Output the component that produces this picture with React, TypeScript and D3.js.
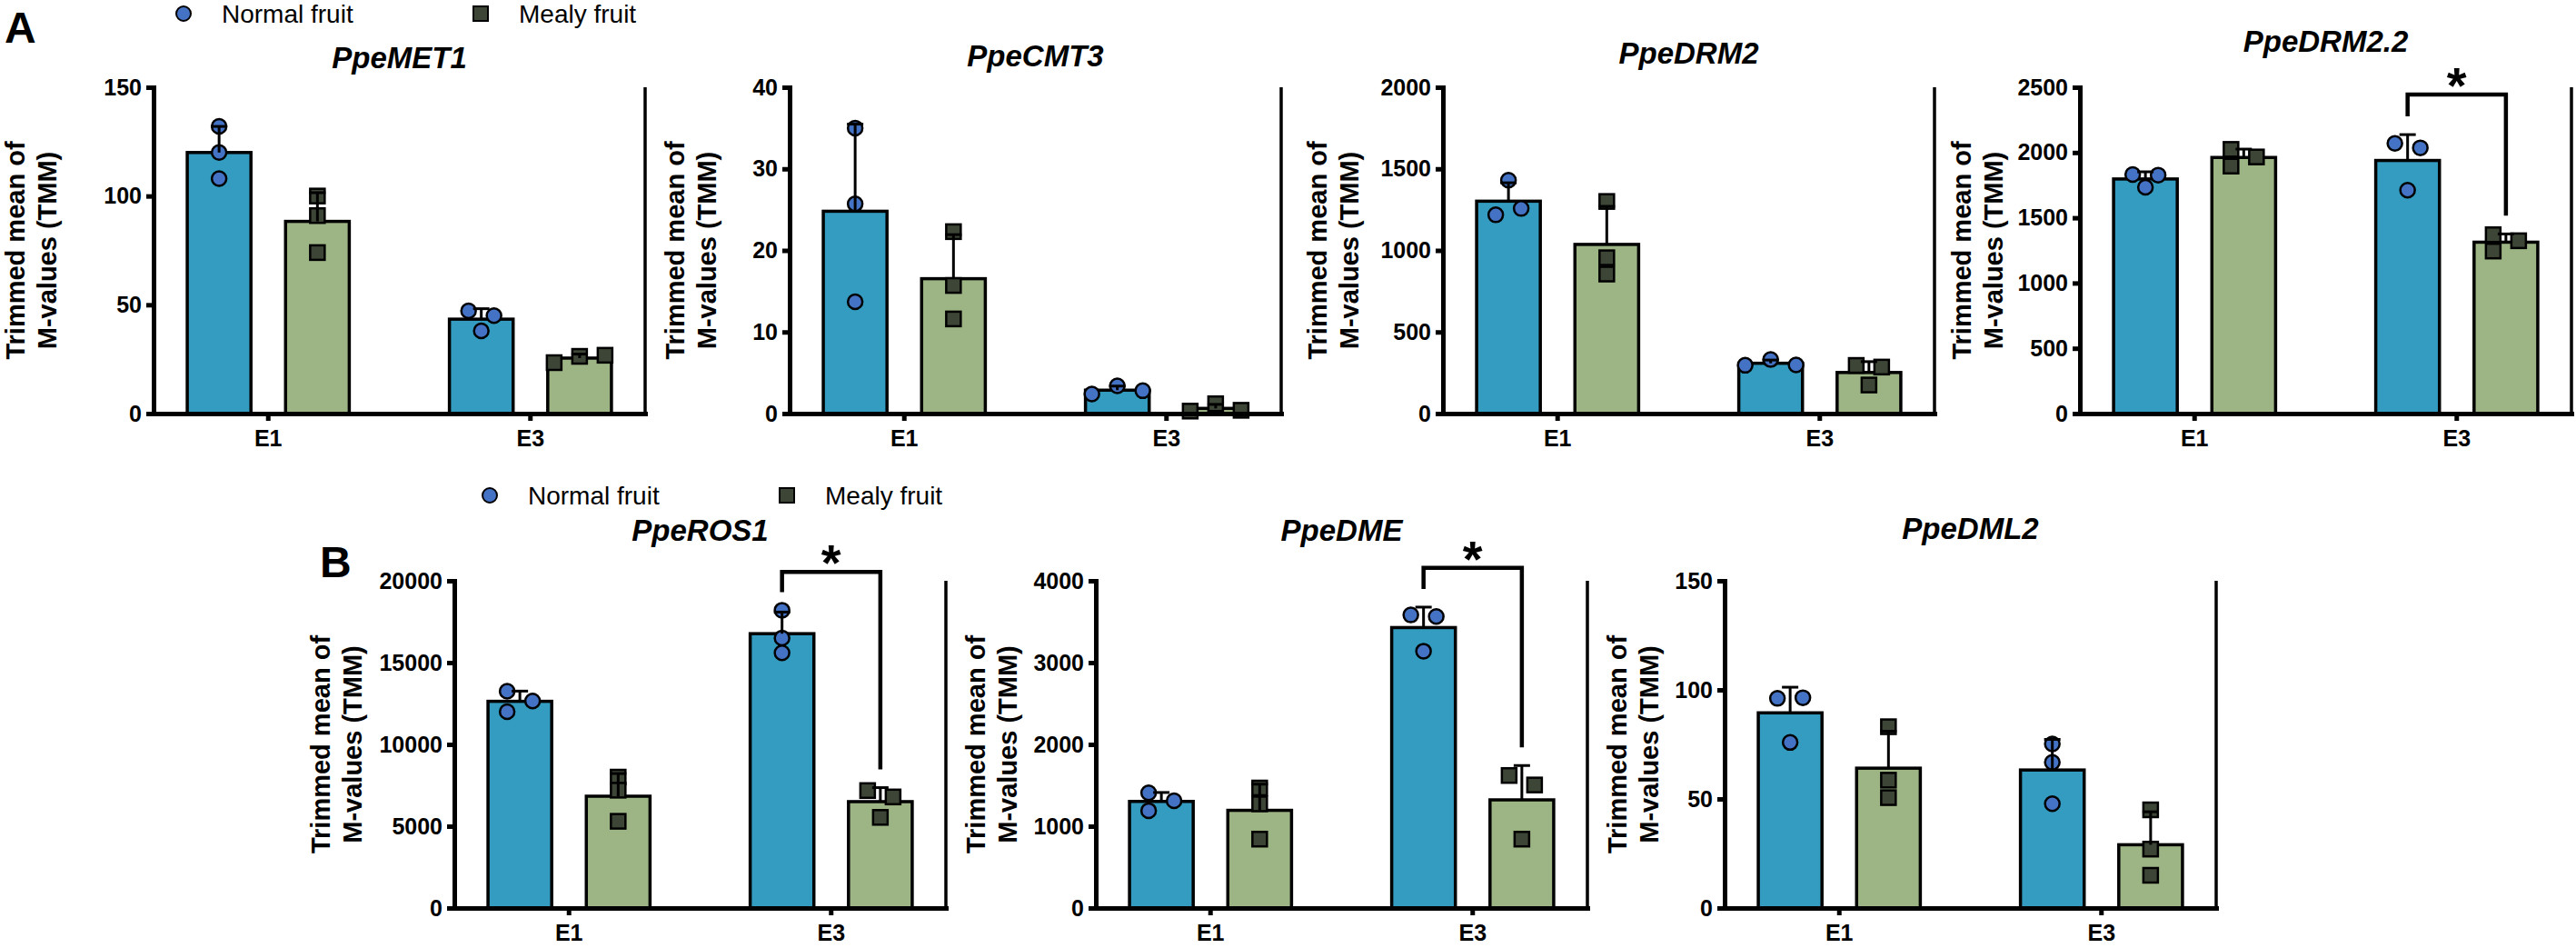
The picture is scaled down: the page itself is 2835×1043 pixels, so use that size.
import React, { useEffect, useRef } from 'react';
import * as d3 from 'd3';

// ---- data ----
const groups = ['E1', 'E3'];
const seriesNames = ['Normal fruit', 'Mealy fruit'];
const genes = ['PpeMET1', 'PpeCMT3', 'PpeDRM2', 'PpeDRM2.2', 'PpeROS1', 'PpeDME', 'PpeDML2'];

// replicates per group (E1, E3)
const met1Normal = [[132, 120, 108], [45, 47.2, 38]];
const met1Mealy = [[100, 91, 74], [26.3, 23.4, 26.8]];
const cmt3Normal = [[35, 25.7, 13.7], [3.4, 2.4, 2.8]];
const cmt3Mealy = [[22.3, 15.7, 11.6], [1.2, 0.3, 0.4]];
const drm2Normal = [[1430, 1257, 1218], [331, 296, 298]];
const drm2Mealy = [[1300, 955, 855], [285, 295, 175]];
const drm22Normal = [[1827, 1831, 1734], [2036, 2070, 1711]];
const drm22Mealy = [[1966, 2024, 1896], [1324, 1370, 1245]];
const ros1Normal = [[12650, 13250, 12000], [18200, 16505, 15600]];
const ros1Mealy = [[8000, 7200, 5300], [6789, 7178, 5539]];
const dmeNormal = [[1311, 1408, 1190], [3563, 3582, 3140]];
const dmeMealy = [[1467, 1273, 842], [1504, 1620, 842]];
const dml2Normal = [[96.4, 96.1, 75.9], [75.2, 66.8, 47.8]];
const dml2Mealy = [[83.1, 58.6, 50.6], [45, 27, 15]];

const normalValues = [met1Normal, cmt3Normal, drm2Normal, drm22Normal, ros1Normal, dmeNormal, dml2Normal];
const mealyValues = [met1Mealy, cmt3Mealy, drm2Mealy, drm22Mealy, ros1Mealy, dmeMealy, dml2Mealy];

const yMaxes = [150, 40, 2000, 2500, 20000, 4000, 150];
const tickSteps = [50, 10, 500, 500, 5000, 1000, 50];
// significance bracket between E3 normal and E3 mealy (top of bracket, data units)
const sigTops: (number | null)[] = [null, null, null, 2444, 20544, 4159, null];

// ---- layout ----
const W = 2835;
const H = 1043;
const rows = [
  { top: 96, zero: 455 },
  { top: 639, zero: 999 },
];
const panelRow = [0, 0, 0, 0, 1, 1, 1];
const panelLeft = [169, 869, 1588, 2289, 500, 1206, 1898];
const titleBase = [75, 73, 70, 57, 595, 595, 593];
const ylabOffset = [-142, -116, -128, -120, -137, -122, -108];
const plotW = 541;

const FONT = 'Liberation Sans, Arial, Helvetica, sans-serif';
const barColors = ['#339cc0', '#9db585'];
const dotColors = ['#4472c4', '#3c4536'];

function sd(v: number[]) {
  const m = d3.mean(v)!;
  return Math.sqrt(d3.sum(v, (d) => (d - m) ** 2) / (v.length - 1));
}

// GraphPad-like horizontal spreading of replicates that collide vertically
function spread(vals: number[], y: (v: number) => number) {
  const pts = vals.map((v, i) => ({ v, i, py: y(v), dx: 0 }));
  const sorted = [...pts].sort((a, b) => a.py - b.py);
  const clusters: typeof pts[] = [];
  sorted.forEach((p, k) => {
    if (k > 0 && p.py - sorted[k - 1].py < 12) clusters[clusters.length - 1].push(p);
    else clusters.push([p]);
  });
  const cands = [0, -14, 14, -28, 28, -42, 42];
  clusters.forEach((c) => {
    c.sort((a, b) => a.i - b.i);
    const placed: typeof pts = [];
    c.forEach((p) => {
      for (const cd of cands) {
        if (placed.every((q) => Math.abs(q.dx - cd) >= 28 || Math.abs(q.py - p.py) >= 12)) {
          p.dx = cd;
          break;
        }
      }
      placed.push(p);
    });
    const mid = (d3.min(c, (p) => p.dx)! + d3.max(c, (p) => p.dx)!) / 2;
    c.forEach((p) => (p.dx -= mid));
  });
  return pts;
}

export default function App() {
  const svgRef = useRef<SVGSVGElement | null>(null);

  useEffect(() => {
    const svg = d3.select(svgRef.current);
    svg.selectAll('*').remove();

    genes.forEach((gene, gi) => {
      const row = rows[panelRow[gi]];
      const left = panelLeft[gi];
      const right = left + plotW;
      const x = d3.scaleBand().domain(groups).range([left, right]).paddingInner(0.382).paddingOuter(0.1285);
      const xs = d3.scaleBand().domain(seriesNames).range([0, x.bandwidth()]).paddingInner(0.352);
      const y = d3.scaleLinear().domain([0, yMaxes[gi]]).range([row.zero, row.top]);
      const g = svg.append('g');
      const series = [normalValues[gi], mealyValues[gi]];

      // bars
      groups.forEach((grp, k) => {
        series.forEach((sv, s) => {
          const vals = sv[k];
          const m = d3.mean(vals)!;
          g.append('rect')
            .attr('x', x(grp)! + xs(seriesNames[s])!)
            .attr('y', y(m))
            .attr('width', xs.bandwidth())
            .attr('height', y(0) - y(m))
            .attr('fill', barColors[s])
            .attr('stroke', '#000')
            .attr('stroke-width', 3.5);
        });
      });

      // points
      groups.forEach((grp, k) => {
        series.forEach((sv, s) => {
          const cx = x(grp)! + xs(seriesNames[s])! + xs.bandwidth() / 2;
          const pts = spread(sv[k], y);
          pts.forEach((p) => {
            if (s === 0) {
              g.append('circle')
                .attr('cx', cx + p.dx)
                .attr('cy', p.py)
                .attr('r', 8)
                .attr('fill', dotColors[0])
                .attr('stroke', '#000')
                .attr('stroke-width', 2.5);
            } else {
              g.append('rect')
                .attr('x', cx + p.dx - 8)
                .attr('y', p.py - 8)
                .attr('width', 16)
                .attr('height', 16)
                .attr('fill', dotColors[1])
                .attr('stroke', '#000')
                .attr('stroke-width', 2.5);
            }
          });
        });
      });

      // error bars (mean + SD)
      groups.forEach((grp, k) => {
        series.forEach((sv, s) => {
          const cx = x(grp)! + xs(seriesNames[s])! + xs.bandwidth() / 2;
          const m = d3.mean(sv[k])!;
          const top = m + sd(sv[k]);
          g.append('line')
            .attr('x1', cx).attr('x2', cx)
            .attr('y1', y(m)).attr('y2', y(top))
            .attr('stroke', '#000').attr('stroke-width', 3);
          g.append('line')
            .attr('x1', cx - 9).attr('x2', cx + 9)
            .attr('y1', y(top)).attr('y2', y(top))
            .attr('stroke', '#000').attr('stroke-width', 3);
        });
      });

      // axes
      const yAxis = g.append('g')
        .attr('transform', `translate(${left},0)`)
        .call(
          d3.axisLeft(y)
            .tickValues(d3.range(0, yMaxes[gi] + 1, tickSteps[gi]))
            .tickFormat(d3.format('d'))
            .tickSize(8)
            .tickSizeOuter(0)
            .tickPadding(5)
        );
      const xAxis = g.append('g')
        .attr('transform', `translate(0,${row.zero})`)
        .call(d3.axisBottom(x).tickSize(8).tickSizeOuter(0).tickPadding(10));
      [yAxis, xAxis].forEach((a) => {
        a.attr('font-family', FONT).attr('font-size', 25).attr('font-weight', 'bold');
        a.select('.domain').attr('stroke-width', 5).attr('stroke-linecap', 'square');
        a.selectAll('.tick line').attr('stroke-width', 5);
        a.selectAll('.tick text').attr('fill', '#000');
      });

      // right frame line
      g.append('line')
        .attr('x1', right).attr('x2', right)
        .attr('y1', row.top).attr('y2', row.zero)
        .attr('stroke', '#000').attr('stroke-width', 3.5);

      // title
      g.append('text')
        .attr('x', (left + right) / 2)
        .attr('y', titleBase[gi])
        .attr('text-anchor', 'middle')
        .attr('font-family', FONT)
        .attr('font-size', 33)
        .attr('font-weight', 'bold')
        .attr('font-style', 'italic')
        .text(gene);

      // y label
      const cy = (row.top + row.zero) / 2;
      ['Trimmed mean of', 'M-values (TMM)'].forEach((t, li) => {
        g.append('text')
          .attr('transform', `translate(${left + ylabOffset[gi] + li * 35},${cy}) rotate(-90)`)
          .attr('text-anchor', 'middle')
          .attr('font-family', FONT)
          .attr('font-size', 29)
          .attr('font-weight', 'bold')
          .text(t);
      });

      // significance bracket
      const st = sigTops[gi];
      if (st !== null) {
        const grp = 'E3';
        const k = groups.indexOf(grp);
        const xl = x(grp)! + xs(seriesNames[0])! + xs.bandwidth() / 2;
        const xr = x(grp)! + xs(seriesNames[1])! + xs.bandwidth() / 2;
        const hi = (vals: number[]) => Math.max(d3.max(vals)!, d3.mean(vals)! + sd(vals));
        const yl = y(hi(series[0][k])) - 20;
        const yr = y(hi(series[1][k])) - 20;
        g.append('path')
          .attr('d', `M${xl},${yl}V${y(st)}H${xr}V${yr}`)
          .attr('fill', 'none')
          .attr('stroke', '#000')
          .attr('stroke-width', 4.5);
        g.append('text')
          .attr('x', (xl + xr) / 2)
          .attr('y', y(st) + 9)
          .attr('text-anchor', 'middle')
          .attr('font-family', FONT)
          .attr('font-size', 56)
          .attr('font-weight', 'bold')
          .text('*');
      }
    });

    // legends
    const legendPos = [
      [202, 15],
      [539, 545],
    ];
    legendPos.forEach(([lx, ly]) => {
      const lg = svg.append('g').attr('transform', `translate(${lx},${ly})`);
      seriesNames.forEach((name, s) => {
        const ox = s * 327;
        if (s === 0) {
          lg.append('circle').attr('cx', ox).attr('cy', 0).attr('r', 8)
            .attr('fill', dotColors[0]).attr('stroke', '#000').attr('stroke-width', 2);
        } else {
          lg.append('rect').attr('x', ox - 8).attr('y', -8).attr('width', 16).attr('height', 16)
            .attr('fill', dotColors[1]).attr('stroke', '#000').attr('stroke-width', 2);
        }
        lg.append('text')
          .attr('x', ox + 42)
          .attr('y', 10)
          .attr('font-family', FONT)
          .attr('font-size', 28)
          .text(name);
      });
    });

    // panel letters
    [['A', 5, 47], ['B', 352, 635]].forEach(([t, lx, ly]) => {
      svg.append('text')
        .attr('x', lx as number)
        .attr('y', ly as number)
        .attr('font-family', FONT)
        .attr('font-size', 48)
        .attr('font-weight', 'bold')
        .text(t as string);
    });
  }, []);

  return (
    <div style={{ position: 'absolute', left: 0, top: 0, background: '#fff' }}>
      <svg ref={svgRef} width={W} height={H} viewBox={`0 0 ${W} ${H}`} />
    </div>
  );
}
